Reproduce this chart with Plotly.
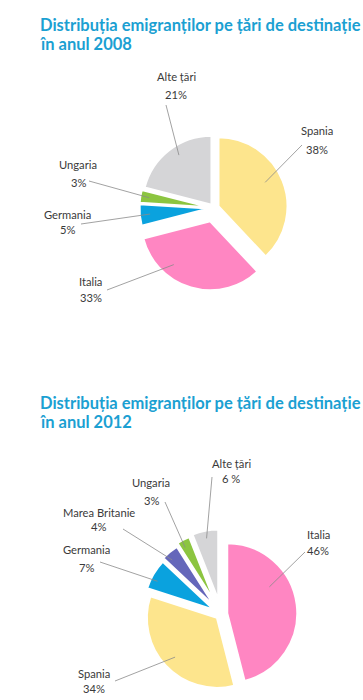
import math
import plotly.graph_objects as go

# ---------------- data ----------------
labels_2008 = ["Spania", "Italia", "Germania", "Ungaria", "Alte țări"]
values_2008 = [38, 33, 5, 3, 21]
pct_text_2008 = ["38%", "33%", "5%", "3%", "21%"]

labels_2012 = ["Italia", "Spania", "Germania", "Marea Britanie", "Ungaria", "Alte țări"]
values_2012 = [46, 34, 7, 4, 3, 6]
pct_text_2012 = ["46%", "34%", "7%", "4%", "3%", "6 %"]

title_2008 = ["Distribuția emigranților pe țări de destinație", "în anul 2008"]
title_2012 = ["Distribuția emigranților pe țări de destinație", "în anul 2012"]

# ---------------- style ----------------
W, H = 363, 700
COLORS = {
    "Spania": "#FDE58D",
    "Italia": "#FF86C2",
    "Germania": "#0AA2DE",
    "Ungaria": "#8CC540",
    "Alte țări": "#D5D5D7",
    "Marea Britanie": "#6567BA",
}
TITLE_COLOR = "#1BA0D2"
TEXT_COLOR = "#3A3A3A"
LINE_COLOR = "#8A8A8A"
TITLE_FONT = "Lato, Roboto, sans-serif"
LABEL_FONT = "Lato, Roboto, sans-serif"

# pie geometry (pixels)
pie_cfg = [
    dict(cx=214, cy=208, r=69,
         pull=[0.07, 0.20, 0.08, 0.08, 0.06],
         frac=[0.46, 0.70, 0.5, 0.5, 0.56], k=[0.76, 0.82, 0.85, 0.87, 0.86],
         name_pos=[(317, 130), (91, 281), (67, 214), (78, 164), (176, 77)],
         pct_dy=[19, 16, 15, 18, 17],
         line_out=[(302, 145), (107, 290), (81, 224), (89, 181), (166, 105)]),
    dict(cx=221, cy=614, r=70,
         pull=[0.09, 0.08, 0.12, 0.15, 0.19, 0.21],
         frac=[0.35, 0.50, 0.35, 0.3, 0.35, 0.5], k=[0.71, 0.82, 0.9, 0.89, 0.89, 0.89],
         name_pos=[(318, 534), (94, 673), (86, 549), (99, 512), (151, 483), (231, 464)],
         pct_dy=[16, 15, 18, 14, 17, 14],
         line_out=[(305, 552), (115, 681), (100, 562), (123, 529), (165, 502), (212, 477)]),
]
title_pos = [(38, 25), (38, 44), (38, 403), (38, 422)]


def px(x):
    return x / W


def py(y):
    return 1 - y / H


fig = go.Figure()
annotations = []
shapes = []

for cfg, labs, vals, pcts in [
    (pie_cfg[0], labels_2008, values_2008, pct_text_2008),
    (pie_cfg[1], labels_2012, values_2012, pct_text_2012),
]:
    maxp = max(cfg["pull"])
    half = cfg["r"] * (1 + maxp)
    fig.add_trace(go.Pie(
        labels=labs, values=vals, sort=False, direction="clockwise", rotation=0,
        pull=cfg["pull"], textinfo="none", hoverinfo="label+percent",
        marker=dict(colors=[COLORS[l] for l in labs], line=dict(color="white", width=2)),
        domain=dict(x=[px(cfg["cx"] - half), px(cfg["cx"] + half)],
                    y=[py(cfg["cy"] + half), py(cfg["cy"] - half)]),
        showlegend=False,
    ))
    total = sum(vals)
    cum = 0
    for i, (lab, v, pt) in enumerate(zip(labs, vals, pcts)):
        a0 = cum / total * 2 * math.pi
        a1 = (cum + v) / total * 2 * math.pi
        cum += v
        amid = (a0 + a1) / 2
        pr = cfg["pull"][i] * cfg["r"]
        ox = cfg["cx"] + pr * math.sin(amid)
        oy = cfg["cy"] - pr * math.cos(amid)
        aa = a0 + cfg["frac"][i] * (a1 - a0)
        ix = ox + cfg["k"][i] * cfg["r"] * math.sin(aa)
        iy = oy - cfg["k"][i] * cfg["r"] * math.cos(aa)
        lx, ly = cfg["line_out"][i]
        shapes.append(dict(type="line", xref="paper", yref="paper",
                           x0=px(lx), y0=py(ly), x1=px(ix), y1=py(iy),
                           line=dict(color=LINE_COLOR, width=0.8)))
        nx, ny = cfg["name_pos"][i]
        annotations.append(dict(text=lab, x=px(nx), y=py(ny), xref="paper", yref="paper",
                                xanchor="center", yanchor="middle", showarrow=False,
                                font=dict(family=LABEL_FONT, size=11.2, color=TEXT_COLOR)))
        annotations.append(dict(text=pt, x=px(nx), y=py(ny + cfg["pct_dy"][i]), xref="paper",
                                yref="paper", xanchor="center", yanchor="middle", showarrow=False,
                                font=dict(family=LABEL_FONT, size=11.2, color=TEXT_COLOR)))

for txt, (tx, ty) in zip(title_2008 + title_2012, title_pos):
    annotations.append(dict(text="<b>" + txt + "</b>", x=px(tx), y=py(ty), xref="paper",
                            yref="paper", xanchor="left", yanchor="middle", showarrow=False,
                            font=dict(family=TITLE_FONT, size=16.5, color=TITLE_COLOR)))

fig.update_layout(width=W, height=H, margin=dict(l=0, r=0, t=0, b=0),
                  paper_bgcolor="white", plot_bgcolor="white",
                  annotations=annotations, shapes=shapes)

fig.write_html("out.html", config={"displayModeBar": False},
               post_script="document.body.style.margin='0';")
